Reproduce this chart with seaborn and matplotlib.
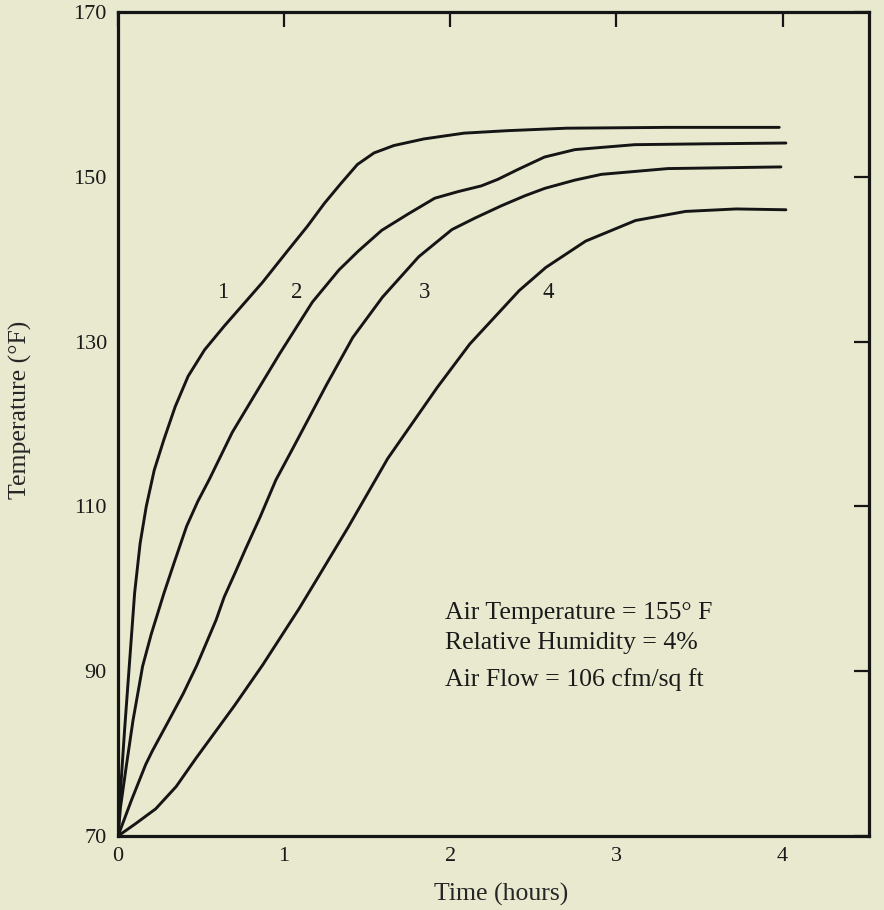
import matplotlib
matplotlib.use("Agg")
import matplotlib.pyplot as plt
import seaborn as sns
import pandas as pd

# ---- data ----
t1 = [0, 0.01, 0.02, 0.04, 0.06, 0.08, 0.10, 0.133, 0.170, 0.218, 0.276, 0.344, 0.422,
      0.521, 0.640, 0.779, 0.87, 1.02, 1.14, 1.243, 1.342, 1.441, 1.541, 1.661, 1.842,
      2.083, 2.344, 2.70, 3.31, 3.98]
T1 = [70, 74, 77, 83, 88.5, 94, 99.5, 105.5, 110.0, 114.4, 118.1, 122.1, 125.8,
      129.0, 131.9, 135.1, 137.2, 141.0, 144.0, 146.8, 149.2, 151.5, 152.9, 153.8, 154.6,
      155.3, 155.6, 155.9, 156.0, 156.0]

t2 = [0, 0.015, 0.05, 0.09, 0.12, 0.148, 0.2, 0.277, 0.34, 0.413, 0.48, 0.55, 0.688,
      0.846, 0.972, 1.17, 1.33, 1.447, 1.587, 1.747, 1.906, 2.046, 2.187, 2.287, 2.408,
      2.567, 2.75, 3.11, 3.52, 4.02]
T2 = [70, 73.5, 78.5, 84, 87.4, 90.6, 94.5, 99.5, 103.3, 107.6, 110.6, 113.3, 119.0,
      124.3, 128.5, 134.8, 138.7, 141.0, 143.5, 145.5, 147.4, 148.2, 148.9, 149.7, 150.9,
      152.4, 153.3, 153.9, 154.0, 154.1]

t3 = [0, 0.08, 0.167, 0.206, 0.30, 0.393, 0.474, 0.59, 0.639, 0.706, 0.767, 0.855, 0.95,
      1.059, 1.256, 1.413, 1.592, 1.81, 2.010, 2.149, 2.309, 2.449, 2.569, 2.75, 2.91,
      3.31, 3.99]
T3 = [70, 74.3, 78.7, 80.3, 83.8, 87.3, 90.7, 96.2, 99.0, 102.0, 104.8, 108.7, 113.2,
      117.3, 124.8, 130.5, 135.4, 140.3, 143.6, 145.0, 146.5, 147.7, 148.6, 149.6, 150.3,
      151.0, 151.2]

t4 = [0, 0.106, 0.227, 0.35, 0.468, 0.70, 0.872, 1.09, 1.21, 1.386, 1.623, 1.92, 2.117,
      2.415, 2.575, 2.815, 3.115, 3.416, 3.72, 4.02]
T4 = [70, 71.5, 73.3, 76.0, 79.4, 85.8, 90.8, 97.6, 101.6, 107.5, 115.8, 124.4, 129.7,
      136.2, 139.0, 142.2, 144.7, 145.8, 146.1, 146.0]

curve_names = ["1", "2", "3", "4"]
label_x = [0.632, 1.077, 1.847, 2.587]
label_y = [136.0, 136.0, 136.0, 136.0]

x_ticks = [0, 1, 2, 3, 4]
y_ticks = [70, 90, 110, 130, 150, 170]

notes = ["Air Temperature = 155\u00b0 F",
         "Relative Humidity = 4%",
         "Air Flow = 106 cfm/sq ft"]

# ---- style ----
BG = "#E9E9D0"
sns.set_theme(style="white")
plt.rcParams["font.family"] = ["Liberation Serif", "DejaVu Serif"]
plt.rcParams["text.color"] = "#1a1a1a"

fig = plt.figure(figsize=(8.84, 9.10), dpi=100, facecolor=BG)
ax = fig.add_axes([0.1335, 0.0813, 0.8495, 0.9055])
ax.set_facecolor(BG)

series = [(t1, T1), (t2, T2), (t3, T3), (t4, T4)]
for (tx, ty), name in zip(series, curve_names):
    df = pd.DataFrame({"t": tx, "T": ty})
    sns.lineplot(data=df, x="t", y="T", ax=ax, color="#151515", lw=2.1,
                 estimator=None, sort=False, legend=False)

for name, lx, ly in zip(curve_names, label_x, label_y):
    ax.text(lx, ly, name, fontsize=16.5, ha="center", va="center", color="#1a1a1a")

note_y = [97.1, 93.4, 89.05]
for txt, ny in zip(notes, note_y):
    ax.text(1.967, ny, txt, fontsize=18.5, ha="left", va="center", color="#1a1a1a")

ax.set_xlim(0, 4.52)
ax.set_ylim(70, 170)
ax.set_xticks(x_ticks)
ax.set_yticks(y_ticks)
ax.set_xticklabels([str(v) for v in x_ticks])
ax.set_yticklabels([str(v) for v in y_ticks])

ax.tick_params(axis="both", which="major", direction="in", length=11, width=1.6,
               color="#151515", top=True, right=True, labelsize=16,
               labelcolor="#1a1a1a")
ax.tick_params(axis="x", pad=8)
ax.tick_params(axis="y", pad=8)

for sp in ax.spines.values():
    sp.set_visible(True)
    sp.set_linewidth(2.3)
    sp.set_color("#151515")

ax.set_xlabel("Time (hours)", fontsize=18.5)
ax.set_ylabel("Temperature (\u00b0F)", fontsize=18.5)
ax.xaxis.set_label_coords(0.51, -0.057)
ax.yaxis.set_label_coords(-0.114, 0.517)

fig.savefig("out.png", dpi=100, facecolor=BG)
